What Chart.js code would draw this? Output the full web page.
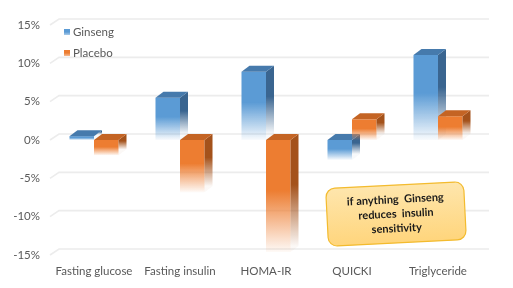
<!DOCTYPE html>
<html>
<head>
<meta charset="utf-8">
<script src="https://cdn.jsdelivr.net/npm/chart.js@4.4.1/dist/chart.umd.min.js"></script>
<style>
  html, body { margin: 0; padding: 0; background: #fff; }
  .chart-wrap { width: 513px; height: 288px; }
</style>
</head>
<body>
<div class="chart-wrap"><canvas id="c" width="513" height="288"></canvas></div>
<script>
const categories = ['Fasting glucose', 'Fasting insulin', 'HOMA-IR', 'QUICKI', 'Triglyceride'];
const ginseng = [0.5, 5.5, 8.9, -2.6, 11.1];
const placebo = [-2.0, -6.8, -14.6, 2.7, 3.1];
const yTicks = [-15, -10, -5, 0, 5, 10, 15];
const note = ['if anything  Ginseng', 'reduces  insulin', 'sensitivity'];

const FONT = 'Lato, "Open Sans", sans-serif';
const DX = 8, DY = 6; // depth offset of the 3D faces

const palette = {
  Ginseng: { front: [91, 155, 213], top: [70, 122, 172], side: [58, 101, 144] },
  Placebo: { front: [237, 125, 49], top: [196, 100, 36], side: [164, 82, 27] },
};
const rgba = (c, a) => `rgba(${c[0]},${c[1]},${c[2]},${a})`;

// vertical fade: solid at the top, almost white at the bottom
function fadeGrad(ctx, c, top, bottom) {
  const g = ctx.createLinearGradient(0, top, 0, Math.max(bottom, top + 1));
  g.addColorStop(0, rgba(c, 1));
  g.addColorStop(0.45, rgba(c, 1));
  g.addColorStop(1, rgba(c, 0.04));
  return g;
}

function barFill(name) {
  return (cx) => {
    const ch = cx.chart;
    const c = palette[name].front;
    if (!ch.chartArea || cx.raw == null) return rgba(c, 1);
    const y = ch.scales.y;
    const a = y.getPixelForValue(cx.raw), b = y.getPixelForValue(0);
    return fadeGrad(ch.ctx, c, Math.min(a, b), Math.max(a, b));
  };
}

// back-wall grid lines with the slanted side-wall piece
const wallGrid = {
  id: 'wallGrid',
  beforeDatasetsDraw(chart) {
    const { ctx, chartArea } = chart;
    const y = chart.scales.y;
    ctx.save();
    ctx.strokeStyle = '#ececec';
    ctx.lineWidth = 1.6;
    yTicks.forEach(t => {
      const py = y.getPixelForValue(t);
      ctx.beginPath();
      ctx.moveTo(chartArea.left - 1, py);
      ctx.lineTo(chartArea.left + DX, py - DY);
      ctx.lineTo(chartArea.right + DX, py - DY);
      ctx.stroke();
    });
    ctx.restore();
  },
};

function drawFaces(chart, meta) {
  const ctx = chart.ctx;
  const pal = palette[chart.data.datasets[meta.index].label];
  ctx.save();
  meta.data.forEach(el => {
    const { x, y, base, width } = el.getProps(['x', 'y', 'base', 'width'], true);
    const l = x - width / 2, r = x + width / 2;
    const top = Math.min(y, base), bot = Math.max(y, base);
    ctx.fillStyle = fadeGrad(ctx, pal.side, top - DY, bot - DY);
    ctx.beginPath();
    ctx.moveTo(r, top); ctx.lineTo(r + DX, top - DY);
    ctx.lineTo(r + DX, bot - DY); ctx.lineTo(r, bot);
    ctx.closePath(); ctx.fill();
    ctx.fillStyle = rgba(pal.top, 1);
    ctx.beginPath();
    ctx.moveTo(l, top); ctx.lineTo(l + DX, top - DY);
    ctx.lineTo(r + DX, top - DY); ctx.lineTo(r, top);
    ctx.closePath(); ctx.fill();
  });
  ctx.restore();
}

// Chart.js paints the first dataset last; paint them left→right instead,
// each followed by its top/side faces, so the right bar hides the left one's side
const bars3d = {
  id: 'bars3d',
  beforeDatasetDraw() { return false; },
  afterDatasetsDraw(chart) {
    chart.data.datasets.forEach((_, i) => {
      const meta = chart.getDatasetMeta(i);
      meta.controller.draw();
      drawFaces(chart, meta);
    });
  },
};

// legend inside the plot + the callout box
const overlay = {
  id: 'overlay',
  afterDraw(chart) {
    const ctx = chart.ctx;
    ctx.save();
    chart.data.datasets.forEach((ds, i) => {
      const c = palette[ds.label].front;
      const sy = 29 + i * 21;
      ctx.fillStyle = fadeGrad(ctx, c, sy - 2, sy + 9);
      ctx.fillRect(64, sy, 6, 6);
      ctx.fillStyle = '#595959';
      ctx.font = '11.5px ' + FONT;
      ctx.textBaseline = 'middle';
      ctx.fillText(ds.label, 73, sy + 3);
    });

    ctx.translate(396, 214);
    ctx.rotate(-0.05);
    const w = 138, h = 58;
    const g = ctx.createLinearGradient(0, -h / 2, 0, h / 2);
    g.addColorStop(0, '#fee6ad');
    g.addColorStop(1, '#ffd57c');
    ctx.beginPath();
    ctx.roundRect(-w / 2, -h / 2, w, h, 9);
    ctx.fillStyle = g;
    ctx.fill();
    ctx.strokeStyle = '#f3bb2e';
    ctx.lineWidth = 1.2;
    ctx.stroke();
    ctx.fillStyle = '#1a1a1a';
    ctx.font = 'bold 11px ' + FONT;
    ctx.textAlign = 'center';
    ctx.textBaseline = 'middle';
    note.forEach((s, i) => ctx.fillText(s, 0, (i - 1) * 14.5));
    ctx.restore();
  },
};

new Chart(document.getElementById('c'), {
  type: 'bar',
  data: {
    labels: categories,
    datasets: [
      { label: 'Ginseng', data: ginseng, backgroundColor: barFill('Ginseng') },
      { label: 'Placebo', data: placebo, backgroundColor: barFill('Placebo') },
    ],
  },
  options: {
    responsive: false,
    animation: false,
    layout: { padding: { left: 0, right: 32, top: 25, bottom: 0 } },
    plugins: { legend: { display: false }, tooltip: { enabled: false } },
    datasets: { bar: { categoryPercentage: 0.57, barPercentage: 1, borderWidth: 0 } },
    scales: {
      x: {
        grid: { display: false, drawTicks: false },
        border: { display: false },
        ticks: { color: '#595959', font: { family: FONT, size: 11.5 }, padding: 9, maxRotation: 0 },
        afterFit(s) { s.height = 33; },
      },
      y: {
        min: -15, max: 15,
        grid: { display: false, drawTicks: false },
        border: { display: false },
        afterBuildTicks(s) { s.ticks = yTicks.map(v => ({ value: v })); },
        ticks: { color: '#595959', font: { family: FONT, size: 11.5 }, padding: 11, callback: v => v + '%' },
        afterFit(s) { s.width = 51; },
      },
    },
  },
  plugins: [wallGrid, bars3d, overlay],
});
</script>
</body>
</html>
